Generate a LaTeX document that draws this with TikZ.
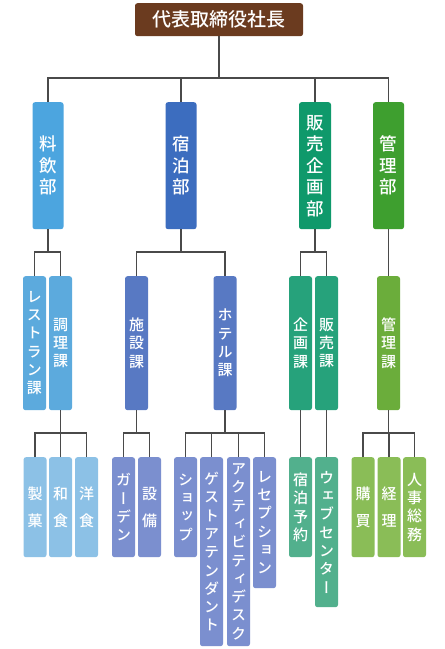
\documentclass[tikz,border=0pt]{standalone}
\usepackage{fontspec}
\newfontfamily\jp[UprightFont={* Medium}]{Noto Sans CJK JP}
\newfontfamily\jpv[UprightFont={* Medium},RawFeature=+vert]{Noto Sans CJK JP}
\definecolor{topc}{HTML}{6B3B1F}
\definecolor{lineC}{HTML}{4A4A4A}
\definecolor{ryoD}{HTML}{4CA5DF}
\definecolor{ryoS}{HTML}{5CAADD}
\definecolor{ryoL}{HTML}{8CC1E6}
\definecolor{shuD}{HTML}{3C6DBF}
\definecolor{shuS}{HTML}{5879C3}
\definecolor{shuL}{HTML}{7B8FCF}
\definecolor{hanD}{HTML}{0F996B}
\definecolor{hanS}{HTML}{26A27B}
\definecolor{hanL}{HTML}{52B08D}
\definecolor{kanD}{HTML}{3E9F2F}
\definecolor{kanS}{HTML}{6BAD3B}
\definecolor{kanL}{HTML}{8ABD57}
\tikzset{
  box/.style={rounded corners=2.5pt, inner sep=0pt, text=white, align=center, anchor=north},
  dept/.style={box, minimum width=31pt, minimum height=127pt, font=\jpv\fontsize{17.5}{21.5}\selectfont},
  sect/.style={box, minimum width=23pt, minimum height=134pt, font=\jpv\fontsize{15}{18.3}\selectfont},
  leaf/.style={box, minimum width=23pt, font=\jpv\fontsize{15}{18.3}\selectfont},
  wide/.style={font=\jpv\fontsize{15}{27}\selectfont},
  conn/.style={draw=lineC, line width=1.3pt},
}
\begin{document}
\begin{tikzpicture}[x=1pt,y=-1pt]
\useasboundingbox[fill=white] (0,0) rectangle (445,649);
% top
\node[box, fill=topc, minimum width=168pt, minimum height=33pt, font=\jp\fontsize{19}{22}\selectfont, text=white] (ceo) at (219,3) {代表取締役社長};
% departments
\node[dept, fill=ryoD] (ryo) at (48,102) {料\\飲\\部};
\node[dept, fill=shuD] (shu) at (181,102) {宿\\泊\\部};
\node[dept, fill=hanD, minimum width=32pt] (han) at (315,102) {販\\売\\企\\画\\部};
\node[dept, fill=kanD] (kan) at (388.5,102) {管\\理\\部};
% sections
\node[sect, fill=ryoS] (rest) at (34.5,276) {レ\\ス\\ト\\ラ\\ン\\課};
\node[sect, fill=ryoS] (chou) at (60.5,276) {調\\理\\課};
\node[sect, fill=shuS] (shis) at (136.5,276) {施\\設\\課};
\node[sect, fill=shuS] (hotel) at (225,276) {ホ\\テ\\ル\\課};
\node[sect, fill=hanS] (kika) at (300.5,276) {企\\画\\課};
\node[sect, fill=hanS] (hanb) at (326.5,276) {販\\売\\課};
\node[sect, fill=kanS] (kanr) at (388.5,276) {管\\理\\課};
% leaves
\node[leaf, wide, fill=ryoL, minimum height=100pt] (seika) at (35,457) {製\\菓};
\node[leaf, wide, fill=ryoL, minimum height=100pt] (wash) at (60.5,457) {和\\食};
\node[leaf, wide, fill=ryoL, minimum height=100pt] (yous) at (86.5,457) {洋\\食};
\node[leaf, fill=shuL, minimum height=100pt] (gard) at (123.5,457) {ガ\\ー\\デ\\ン};
\node[leaf, wide, fill=shuL, minimum height=100pt] (setu) at (149.5,457) {設\\備};
\node[leaf, fill=shuL, minimum height=100pt] (shop) at (185.5,457) {シ\\ョ\\ッ\\プ};
\node[leaf, fill=shuL, minimum height=189pt] (guest) at (211.5,457) {ゲ\\ス\\ト\\ア\\テ\\ン\\ダ\\ン\\ト};
\node[leaf, fill=shuL, minimum height=189pt] (act) at (238.5,457) {ア\\ク\\テ\\ィ\\ビ\\テ\\ィ\\デ\\ス\\ク};
\node[leaf, fill=shuL, minimum height=131pt] (recp) at (264.5,457) {レ\\セ\\プ\\シ\\ョ\\ン};
\node[leaf, fill=hanL, minimum height=100pt] (yoyk) at (300.5,457) {宿\\泊\\予\\約};
\node[leaf, fill=hanL, minimum height=150pt] (web) at (326.5,457) {ウ\\ェ\\ブ\\セ\\ン\\タ\\ー};
\node[leaf, wide, fill=kanL, minimum height=100pt] (koub) at (363,457) {購\\買};
\node[leaf, wide, fill=kanL, minimum height=100pt] (keir) at (389,457) {経\\理};
\node[leaf, fill=kanL, minimum height=100pt] (jinj) at (414.5,457) {人\\事\\総\\務};
% bar levels
\coordinate (b1) at (0,78);
\coordinate (b2) at (0,252);
\coordinate (b3) at (0,433);
% level 1
\draw[conn] (ceo.south) -- (ceo.south |- b1);
\draw[conn] (ryo.north) -- (ryo.north |- b1) -- (kan.north |- b1) -- (kan.north);
\draw[conn] (shu.north) -- (shu.north |- b1);
\draw[conn] (han.north) -- (han.north |- b1);
% level 2
\draw[conn] (ryo.south) -- (ryo.south |- b2);
\draw[conn] (rest.north) -- (rest.north |- b2) -- (chou.north |- b2) -- (chou.north);
\draw[conn] (shu.south) -- (shu.south |- b2);
\draw[conn] (shis.north) -- (shis.north |- b2) -- (hotel.north |- b2) -- (hotel.north);
\draw[conn] (han.south) -- (han.south |- b2);
\draw[conn] (kika.north) -- (kika.north |- b2) -- (hanb.north |- b2) -- (hanb.north);
\draw[conn] (kan.south) -- (kanr.north);
% level 3
\draw[conn] (chou.south) -- (chou.south |- b3);
\draw[conn] (seika.north) -- (seika.north |- b3) -- (yous.north |- b3) -- (yous.north);
\draw[conn] (wash.north) -- (wash.north |- b3);
\draw[conn] (shis.south) -- (shis.south |- b3);
\draw[conn] (gard.north) -- (gard.north |- b3) -- (setu.north |- b3) -- (setu.north);
\draw[conn] (hotel.south) -- (hotel.south |- b3);
\draw[conn] (shop.north) -- (shop.north |- b3) -- (recp.north |- b3) -- (recp.north);
\draw[conn] (guest.north) -- (guest.north |- b3);
\draw[conn] (act.north) -- (act.north |- b3);
\draw[conn] (kika.south) -- (yoyk.north);
\draw[conn] (hanb.south) -- (web.north);
\draw[conn] (kanr.south) -- (kanr.south |- b3);
\draw[conn] (koub.north) -- (koub.north |- b3) -- (jinj.north |- b3) -- (jinj.north);
\draw[conn] (keir.north) -- (keir.north |- b3);
\end{tikzpicture}
\end{document}
